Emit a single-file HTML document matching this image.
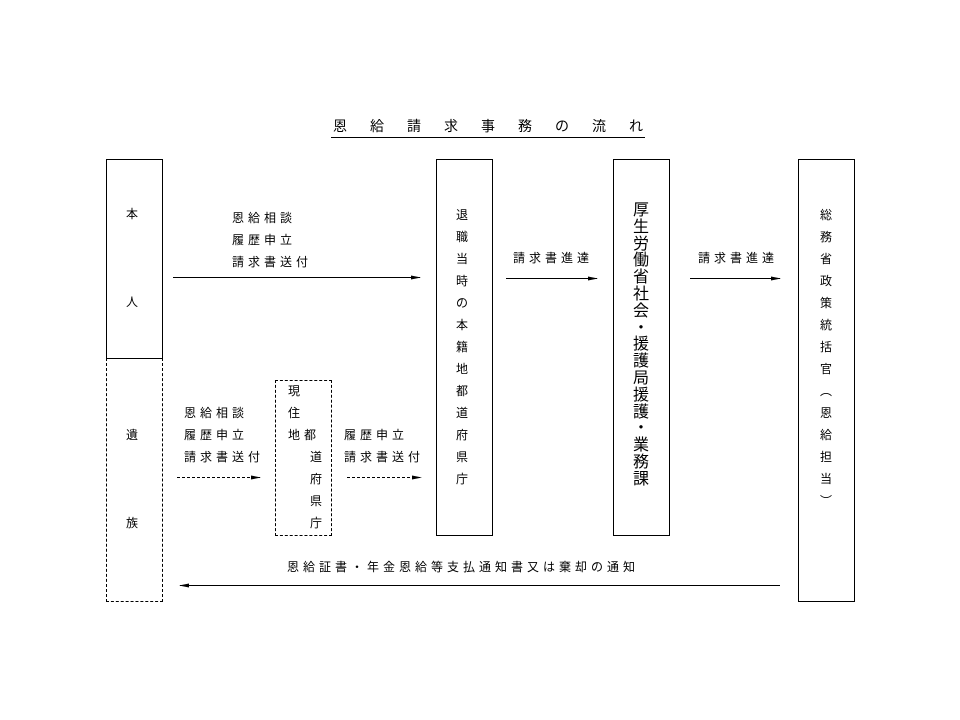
<!DOCTYPE html>
<html><head><meta charset="utf-8"><style>
body{margin:0;background:#fff;}
#c{position:relative;width:960px;height:720px;overflow:hidden;font-family:"Liberation Sans","Noto Sans CJK JP",sans-serif;font-size:12px;color:#000;}
.t{position:absolute;white-space:nowrap;line-height:14px;letter-spacing:4px;}
.v{position:absolute;width:16px;text-align:center;line-height:22px;font-size:12px;}
.b{position:absolute;border:1px solid #000;box-sizing:border-box;}
.d{position:absolute;border:1px dashed #000;box-sizing:border-box;}
</style></head><body><div id="c">
<div class="t" style="left:333px;top:119px;font-size:14px;letter-spacing:23px;">恩給請求事務の流れ</div>
<div style="position:absolute;left:331px;top:137px;width:314px;height:1px;background:#000"></div>

<div class="b" style="left:106px;top:159px;width:57px;height:200px;"></div>
<div class="d" style="left:106px;top:358px;width:57px;height:244px;border-top:none"></div>
<div class="b" style="left:436px;top:159px;width:57px;height:377px;"></div>
<div class="b" style="left:613px;top:159px;width:57px;height:377px;"></div>
<div class="b" style="left:798px;top:159px;width:57px;height:443px;"></div>
<div class="d" style="left:275px;top:380px;width:57px;height:156px;"></div>

<div class="v" style="left:124px;top:203px;">本</div>
<div class="v" style="left:124px;top:291px;">人</div>
<div class="v" style="left:124px;top:424px;">遺</div>
<div class="v" style="left:124px;top:512px;">族</div>

<div class="v" style="left:454px;top:204px;">退<br>職<br>当<br>時<br>の<br>本<br>籍<br>地<br>都<br>道<br>府<br>県<br>庁</div>
<div class="v" style="left:632px;top:203px;font-size:16px;line-height:16.8px;width:18px;">厚<br>生<br>労<br>働<br>省<br>社<br>会<br>・<br>援<br>護<br>局<br>援<br>護<br>・<br>業<br>務<br>課</div>
<div class="v" style="left:818px;top:204px;">総<br>務<br>省<br>政<br>策<br>統<br>括<br>官<br>︵<br>恩<br>給<br>担<br>当<br>︶</div>

<div class="t" style="left:232px;top:207px;line-height:22px;">恩給相談<br>履歴申立<br>請求書送付</div>
<div class="t" style="left:184px;top:402px;line-height:22px;">恩給相談<br>履歴申立<br>請求書送付</div>
<div class="t" style="left:288px;top:380px;line-height:22px;">現<br>住<br>地都<br>&nbsp;&nbsp;&nbsp;道<br>&nbsp;&nbsp;&nbsp;府<br>&nbsp;&nbsp;&nbsp;県<br>&nbsp;&nbsp;&nbsp;庁</div>
<div class="t" style="left:344px;top:424px;line-height:22px;">履歴申立<br>請求書送付</div>
<div class="t" style="left:513px;top:251px;">請求書進達</div>
<div class="t" style="left:698px;top:251px;">請求書進達</div>
<div class="t" style="left:287px;top:560px;">恩給証書・年金恩給等支払通知書又は棄却の通知</div>

<svg width="960" height="720" style="position:absolute;left:0;top:0">
<defs><marker id="a" markerWidth="10" markerHeight="6" refX="9" refY="3" orient="auto" markerUnits="userSpaceOnUse"><path d="M0,1L10,3L0,5z" fill="#000"/></marker></defs>
<g stroke="#000" stroke-width="1" fill="none">
<line x1="173" y1="277.5" x2="420" y2="277.5" marker-end="url(#a)"/>
<line x1="506" y1="278.5" x2="597" y2="278.5" marker-end="url(#a)"/>
<line x1="690" y1="278.5" x2="780" y2="278.5" marker-end="url(#a)"/>
<line x1="780" y1="585.5" x2="180" y2="585.5" marker-end="url(#a)"/>
<line x1="177" y1="477.5" x2="260" y2="477.5" stroke-dasharray="3,2" marker-end="url(#a)"/>
<line x1="347" y1="477.5" x2="421" y2="477.5" stroke-dasharray="3,2" marker-end="url(#a)"/>
</g></svg>
</div></body></html>
